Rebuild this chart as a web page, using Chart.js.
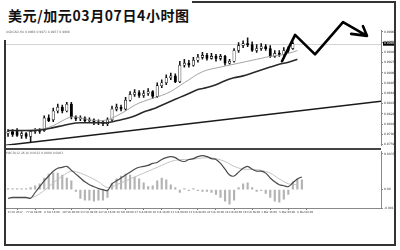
<!DOCTYPE html>
<html>
<head>
<meta charset="utf-8">
<script src="https://cdn.jsdelivr.net/npm/chart.js@4.4.0/dist/chart.umd.min.js"></script>
<style>
body { margin: 0; width: 400px; height: 250px; background: #fff; position: relative; overflow: hidden; font-family: "DejaVu Sans", sans-serif; }
.ln { position: absolute; background: #333; }
#title { position: absolute; left: 8px; top: 5px; font: bold 14px "Noto Sans CJK SC", sans-serif; letter-spacing: 0.6px; color: #111; background: #fff; padding-right: 3px; z-index: 3; }
.tiny { position: absolute; font-size: 3px; line-height: 3px; color: #666; white-space: nowrap; z-index: 3; }
canvas { position: absolute; }
</style>
</head>
<body>
<div id="title">美元/加元03月07日4小时图</div>
<div class="tiny" style="left:6px;top:31px">USDCAD,H4 0.9966 0.9971 0.9957 0.9966</div>
<div class="tiny" style="left:6px;top:152px">MACD(12,26,9) 0.0012 0.0009 0.0003</div>

<canvas id="price" width="390" height="148" style="left:6px;top:0px"></canvas>
<canvas id="macd" width="390" height="72" style="left:6px;top:149px"></canvas>

<div class="ln" style="left:4px;top:40px;width:2px;height:206px"></div>
<div class="ln" style="left:4px;top:244px;width:392px;height:2px"></div>
<div class="ln" style="left:394px;top:1px;width:2px;height:245px"></div>
<div class="ln" style="left:192px;top:1px;width:204px;height:2px"></div>
<div class="ln" style="left:6px;top:147.5px;width:375px;height:2px;background:#444"></div>

<script>
// 4h candles, USD/CAD
const opens = [0.9782,0.9786,0.9788,0.9778,0.9782,0.9776,0.9786,0.9788,0.9788,0.9814,
  0.9810,0.9828,0.9836,0.9828,0.9842,0.9816,0.9812,0.9814,0.9808,0.9810,
  0.9804,0.9806,0.9802,0.9810,0.9832,0.9836,0.9832,0.9850,0.9862,0.9866,
  0.9860,0.9864,0.9868,0.9858,0.9880,0.9886,0.9896,0.9900,0.9888,0.9922,
  0.9926,0.9922,0.9932,0.9938,0.9942,0.9936,0.9940,0.9936,0.9940,0.9926,
  0.9930,0.9952,0.9962,0.9966,0.9964,0.9952,0.9956,0.9960,0.9956,0.9940,
  0.9946,0.9944,0.9952,0.9956];
const highs = [0.9790,0.9790,0.9792,0.9786,0.9784,0.9788,0.9792,0.9792,0.9818,0.9820,
  0.9834,0.9842,0.9840,0.9846,0.9846,0.9818,0.9818,0.9816,0.9814,0.9812,
  0.9810,0.9808,0.9814,0.9838,0.9842,0.9840,0.9856,0.9868,0.9872,0.9870,
  0.9870,0.9874,0.9870,0.9886,0.9892,0.9902,0.9906,0.9904,0.9930,0.9934,
  0.9932,0.9938,0.9944,0.9948,0.9946,0.9946,0.9944,0.9944,0.9942,0.9934,
  0.9956,0.9968,0.9972,0.9978,0.9970,0.9964,0.9966,0.9964,0.9962,0.9952,
  0.9952,0.9958,0.9960,0.9970];
const lows = [0.9776,0.9776,0.9776,0.9772,0.9772,0.9764,0.9782,0.9782,0.9786,0.9806,
  0.9806,0.9824,0.9824,0.9826,0.9812,0.9808,0.9808,0.9804,0.9804,0.9800,
  0.9800,0.9798,0.9798,0.9808,0.9828,0.9828,0.9830,0.9848,0.9858,0.9856,
  0.9856,0.9860,0.9854,0.9856,0.9876,0.9882,0.9892,0.9886,0.9886,0.9918,
  0.9918,0.9920,0.9928,0.9934,0.9932,0.9934,0.9930,0.9932,0.9922,0.9924,
  0.9928,0.9948,0.9958,0.9960,0.9950,0.9948,0.9952,0.9952,0.9938,0.9938,
  0.9940,0.9942,0.9948,0.9954];
const closes = [0.9786,0.9780,0.9778,0.9782,0.9776,0.9786,0.9788,0.9786,0.9814,0.9808,
  0.9828,0.9836,0.9828,0.9842,0.9816,0.9812,0.9814,0.9808,0.9810,0.9804,
  0.9806,0.9802,0.9810,0.9832,0.9836,0.9832,0.9850,0.9862,0.9866,0.9860,
  0.9864,0.9868,0.9858,0.9880,0.9886,0.9896,0.9900,0.9888,0.9922,0.9926,
  0.9922,0.9932,0.9938,0.9942,0.9936,0.9940,0.9936,0.9940,0.9926,0.9930,
  0.9952,0.9962,0.9966,0.9964,0.9952,0.9956,0.9960,0.9956,0.9940,0.9946,
  0.9944,0.9952,0.9956,0.9966];

// moving averages, read every second bar
const maX = [0,2,4,6,8,10,12,14,16,18,20,22,24,26,28,30,32,34,36,38,40,42,44,46,48,50,52,54,56,58,60,62,64];
const fastMA = [0.9788,0.9788,0.9788,0.9790,0.9792,0.9798,0.9808,0.9816,0.9814,0.9810,0.9808,0.9810,0.9818,0.9828,0.9840,0.9848,
  0.9854,0.9860,0.9868,0.9880,0.9892,0.9904,0.9912,0.9916,0.9920,0.9924,0.9928,0.9932,0.9936,0.9940,0.9942,0.9946,0.9952];
const slowMA = [0.9788,0.9788,0.9788,0.9788,0.9790,0.9794,0.9798,0.9802,0.9804,0.9804,0.9804,0.9804,0.9808,0.9812,0.9818,0.9826,
  0.9832,0.9840,0.9848,0.9856,0.9864,0.9872,0.9876,0.9882,0.9890,0.9896,0.9900,0.9906,0.9912,0.9918,0.9924,0.9928,0.9934];

// long trend line
const trendX = [-0.44, 82.5];
const trendY = [0.9758, 0.9848];

// hand drawn arrow (bar index / price)
const arrowX = [60.6, 63.5, 67.9, 74.1, 79.4, 78.5, 79.4, 75.9];
const arrowY = [0.9930, 0.9984, 0.9944, 1.0010, 0.9982, 1.0002, 0.9982, 0.9986];

const priceTicks = [0.9990,0.9969,0.9948,0.9927,0.9906,0.9885,0.9864,0.9843,0.9822,0.9801,0.9780,0.9759];

// MACD
const macdHist = [0.0001,0.0001,0.0001,0.0001,0.0001,0.0002,0.0004,0.0006,0.0012,0.0016,
  0.0017,0.0017,0.0015,0.0012,0.0009,-0.0002,-0.0009,-0.0011,-0.0011,-0.0012,
  -0.0011,-0.0011,-0.0008,0.0006,0.0011,0.0014,0.0016,0.0015,0.0013,0.0011,
  0.0007,0.0003,0.0004,0.0009,0.0012,0.0010,0.0005,0.0002,-0.0003,0.0001,
  -0.0001,0.0001,-0.0001,-0.0002,-0.0002,-0.0003,-0.0005,-0.0008,-0.0012,-0.0015,
  -0.0011,0.0002,0.0006,0.0007,0.0002,-0.0002,-0.0001,-0.0004,-0.0008,-0.0012,
  -0.0013,-0.0010,-0.0005,0.0008,0.0011,0.0010];
const macdLine = [-0.0009,-0.0008,-0.0008,-0.0008,-0.0008,-0.0009,-0.0003,0.0003,0.0009,0.0014,
  0.0019,0.0022,0.0023,0.0024,0.0020,0.0016,0.0012,0.0008,0.0005,0.0003,
  0.0001,0.0000,-0.0001,0.0006,0.0009,0.0012,0.0015,0.0018,0.0021,0.0023,
  0.0024,0.0025,0.0027,0.0028,0.0031,0.0033,0.0034,0.0033,0.0030,0.0029,
  0.0031,0.0032,0.0034,0.0035,0.0034,0.0032,0.0031,0.0027,0.0021,0.0015,
  0.0014,0.0018,0.0022,0.0024,0.0021,0.0019,0.0019,0.0017,0.0012,0.0008,
  0.0005,0.0004,0.0003,0.0007,0.0011,0.0013];
const signalLine = [-0.0009,-0.0009,-0.0009,-0.0007,-0.0001,0.0007,0.0014,0.0019,0.0017,0.0013,0.0008,0.0002,0.0005,0.0009,0.0013,0.0017,
  0.0021,0.0025,0.0029,0.0031,0.0031,0.0032,0.0033,0.0032,0.0029,0.0024,0.0021,0.0021,0.0020,0.0017,0.0011,0.0006,0.0005];
const macdTicks = [0.0037, 0, -0.0019];

const dateIdx = [0,4,8,12,16,20,24,28,32,36,40,44,48,52,56,60,64];
const dateLabels = ['6 Feb 2012','7 Feb 08:00','8 Feb 16:00','10 Feb 00:00','13 Feb 08:00','14 Feb 16:00',
  '16 Feb 00:00','17 Feb 08:00','20 Feb 16:00','22 Feb 00:00','23 Feb 08:00','24 Feb 16:00',
  '28 Feb 00:00','29 Feb 08:00','1 Mar 16:00','5 Mar 00:00','6 Mar 08:00'];

const xMin = -0.45, xMax = 82.5;
const bars = opens.map((_, i) => i);
const pts = (xs, ys) => xs.map((x, k) => ({ x: x, y: ys[k] }));
const tickFont = { size: 3, family: 'DejaVu Sans' };

const lastPrice = {
    id: 'lastPrice',
    beforeDatasetsDraw(chart) {
        const a = chart.chartArea, ctx = chart.ctx;
        const y = Math.round(chart.scales.y.getPixelForValue(closes[closes.length - 1])) + 0.5;
        ctx.save();
        ctx.strokeStyle = '#d4d4d4';
        ctx.lineWidth = 1;
        ctx.beginPath();
        ctx.moveTo(a.left, y);
        ctx.lineTo(a.right, y);
        ctx.stroke();
        ctx.restore();
    },
    afterDraw(chart) {
        const a = chart.chartArea, ctx = chart.ctx;
        const y = chart.scales.y.getPixelForValue(closes[closes.length - 1]);
        ctx.save();
        ctx.fillStyle = '#000';
        ctx.fillRect(a.right + 2, y - 2, 11, 4);
        ctx.fillStyle = '#fff';
        ctx.font = '3px DejaVu Sans';
        ctx.textBaseline = 'middle';
        ctx.fillText(closes[closes.length - 1].toFixed(4), a.right + 3, y);
        ctx.restore();
    }
};

new Chart(document.getElementById('price'), {
    type: 'bar',
    data: {
        datasets: [
            { type: 'line', data: pts(arrowX, arrowY), borderColor: '#000', borderWidth: 2.6,
              pointRadius: 0, tension: 0, clip: false, order: 0, borderJoinStyle: 'round', borderCapStyle: 'round' },
            { type: 'line', data: pts(trendX, trendY), borderColor: '#1a1a1a', borderWidth: 1.5, pointRadius: 0, order: 1 },
            { type: 'line', data: pts(maX, slowMA), borderColor: '#2a2a2a', borderWidth: 1.6, pointRadius: 0, tension: 0.3, order: 1 },
            { type: 'line', data: pts(maX, fastMA), borderColor: '#9a9a9a', borderWidth: 0.9, pointRadius: 0, tension: 0.3, order: 1 },
            { data: bars.map(i => ({ x: i, y: [opens[i], closes[i]] })),
              backgroundColor: bars.map(i => closes[i] >= opens[i] ? '#fff' : '#000'),
              borderColor: '#000', borderWidth: 0.6, borderSkipped: false, barThickness: 2.4, minBarLength: 1,
              grouped: false, order: 2 },
            { data: bars.map(i => ({ x: i, y: [lows[i], highs[i]] })),
              backgroundColor: '#111', barThickness: 0.9, grouped: false, order: 3 }
        ]
    },
    options: {
        responsive: false, animation: false, devicePixelRatio: 1,
        layout: { padding: { top: 30, left: 0, right: 0, bottom: 0 } },
        plugins: { legend: { display: false }, tooltip: { enabled: false } },
        scales: {
            x: { type: 'linear', min: xMin, max: xMax, display: false, offset: false },
            y: {
                position: 'right', min: 0.9758, max: 0.9994,
                afterFit(s) { s.width = 15; },
                afterBuildTicks(s) { s.ticks = priceTicks.map(v => ({ value: v })); },
                ticks: { font: tickFont, color: '#333', padding: 1, callback: v => v.toFixed(4) },
                grid: { drawOnChartArea: false, tickLength: 2, color: '#888' },
                border: { color: '#888', width: 1 }
            }
        }
    },
    plugins: [lastPrice]
});

new Chart(document.getElementById('macd'), {
    type: 'bar',
    data: {
        datasets: [
            { type: 'line', data: pts(bars.concat([64, 65]), macdLine), borderColor: '#4a4a4a', borderWidth: 1.2,
              pointRadius: 0, tension: 0.3, order: 0 },
            { type: 'line', data: pts(maX, signalLine), borderColor: '#bdbdbd', borderWidth: 0.9,
              pointRadius: 0, tension: 0.3, order: 1 },
            { data: pts(bars.concat([64, 65]), macdHist), backgroundColor: '#b3b3b3', barThickness: 1.5,
              grouped: false, order: 2 }
        ]
    },
    options: {
        responsive: false, animation: false, devicePixelRatio: 1,
        layout: { padding: { top: 1, left: 0, right: 0, bottom: 0 } },
        plugins: { legend: { display: false }, tooltip: { enabled: false } },
        scales: {
            x: {
                type: 'linear', min: xMin, max: xMax, offset: false,
                afterFit(s) { s.height = 13; },
                afterBuildTicks(s) { s.ticks = dateIdx.map(v => ({ value: v })); },
                ticks: { font: { size: 2.6, family: 'DejaVu Sans' }, color: '#333', align: 'start', padding: 1,
                         maxRotation: 0, autoSkip: false, callback: (v, i) => dateLabels[i] },
                grid: { drawOnChartArea: false, tickLength: 2, color: '#777' },
                border: { color: '#888', width: 1 }
            },
            y: {
                position: 'right', min: -0.0019, max: 0.0039,
                afterFit(s) { s.width = 15; },
                afterBuildTicks(s) { s.ticks = macdTicks.map(v => ({ value: v })); },
                ticks: { font: tickFont, color: '#333', padding: 1, callback: v => v === 0 ? '0.00' : v.toFixed(4) },
                grid: { drawOnChartArea: false, tickLength: 2, color: '#888' },
                border: { color: '#888', width: 1 }
            }
        }
    }
});
</script>
</body>
</html>
